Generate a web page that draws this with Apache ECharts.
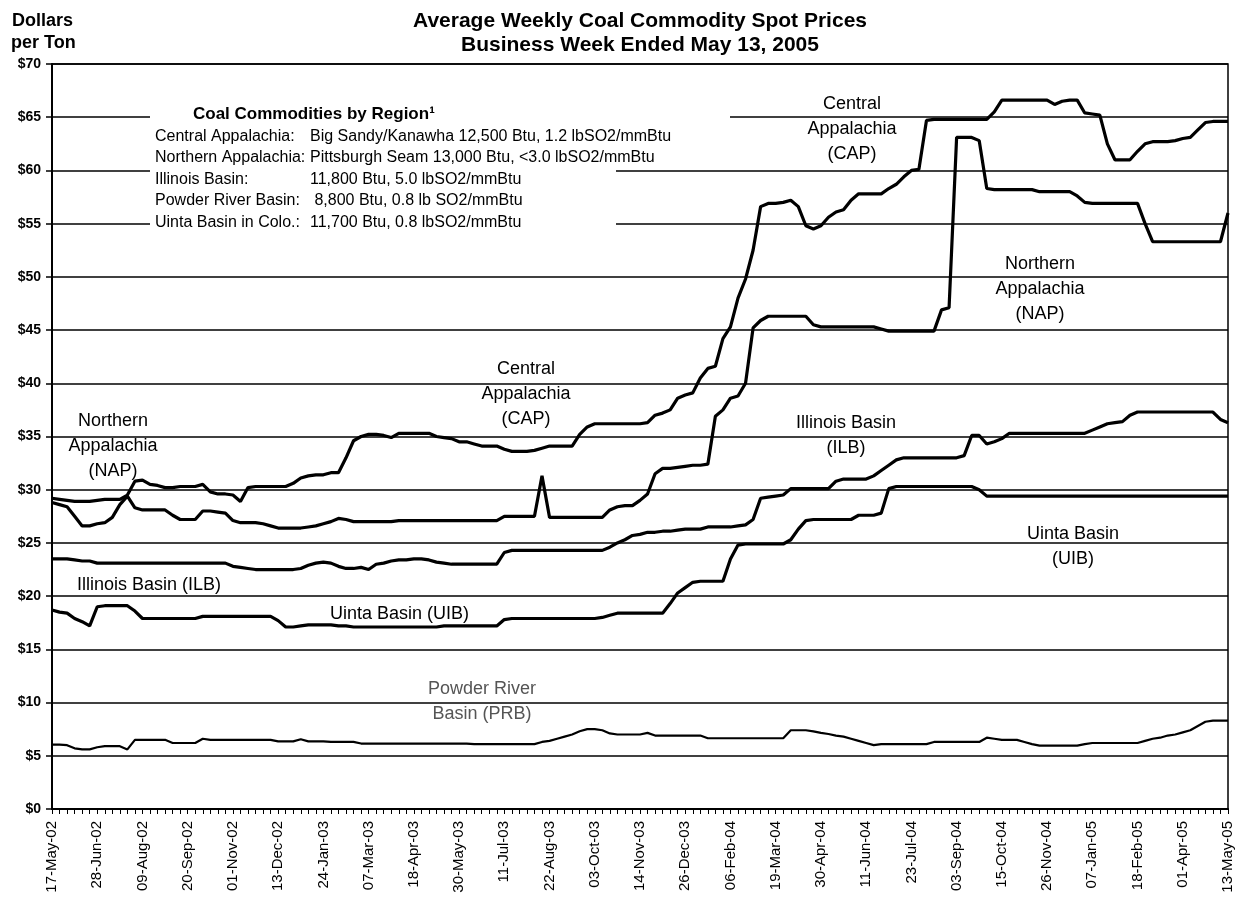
<!DOCTYPE html>
<html>
<head>
<meta charset="utf-8">
<script src="https://cdn.jsdelivr.net/npm/echarts@6/dist/echarts.min.js"></script>
<style>
  html, body { margin: 0; padding: 0; background: #fff; }
  #chart { width: 1236px; height: 899px; }
</style>
</head>
<body>
<div id="chart"></div>
<script>
// Tick labels (every 6th week, 17-May-02 .. 13-May-05)
const tickLabels = ['17-May-02','28-Jun-02','09-Aug-02','20-Sep-02','01-Nov-02','13-Dec-02','24-Jan-03','07-Mar-03','18-Apr-03','30-May-03','11-Jul-03','22-Aug-03','03-Oct-03','14-Nov-03','26-Dec-03','06-Feb-04','19-Mar-04','30-Apr-04','11-Jun-04','23-Jul-04','03-Sep-04','15-Oct-04','26-Nov-04','07-Jan-05','18-Feb-05','01-Apr-05','13-May-05'];

// Weekly values (157 weeks)
const cap = [
29.2,29.1,29.0,28.9,28.9,28.9,29.0,29.1,29.1,29.1,
29.5,30.8,30.9,30.5,30.4,30.2,30.2,30.3,30.3,30.3,
30.5,29.8,29.6,29.6,29.5,28.9,30.2,30.3,30.3,30.3,
30.3,30.3,30.6,31.1,31.3,31.4,31.4,31.6,31.6,33.0,
34.6,35.0,35.2,35.2,35.1,34.9,35.3,35.3,35.3,35.3,
35.3,35.0,34.9,34.8,34.5,34.5,34.3,34.1,34.1,34.1,
33.8,33.6,33.6,33.6,33.7,33.9,34.1,34.1,34.1,34.1,
35.2,35.9,36.2,36.2,36.2,36.2,36.2,36.2,36.2,36.3,
37.0,37.2,37.5,38.6,38.9,39.1,40.5,41.4,41.6,44.2,
45.3,48.0,49.8,52.5,56.6,56.9,56.9,57.0,57.2,56.6,
54.8,54.5,54.8,55.6,56.1,56.3,57.2,57.8,57.8,57.8,
57.8,58.3,58.7,59.4,60.0,60.1,64.7,64.8,64.8,64.8,
64.8,64.8,64.8,64.8,64.8,65.5,66.6,66.6,66.6,66.6,
66.6,66.6,66.6,66.2,66.5,66.6,66.6,65.4,65.3,65.2,
62.5,61.0,61.0,61.0,61.8,62.5,62.7,62.7,62.7,62.8,
63.0,63.1,63.8,64.5,64.6,64.6,64.6];
const nap = [
28.8,28.6,28.4,27.5,26.6,26.6,26.8,26.9,27.4,28.6,
29.4,28.3,28.1,28.1,28.1,28.1,27.6,27.2,27.2,27.2,
28.0,28.0,27.9,27.8,27.1,26.9,26.9,26.9,26.8,26.6,
26.4,26.4,26.4,26.4,26.5,26.6,26.8,27.0,27.3,27.2,
27.0,27.0,27.0,27.0,27.0,27.0,27.1,27.1,27.1,27.1,
27.1,27.1,27.1,27.1,27.1,27.1,27.1,27.1,27.1,27.1,
27.5,27.5,27.5,27.5,27.5,31.3,27.4,27.4,27.4,27.4,
27.4,27.4,27.4,27.4,28.1,28.4,28.5,28.5,29.0,29.6,
31.5,32.0,32.0,32.1,32.2,32.3,32.3,32.4,36.9,37.5,
38.6,38.8,40.0,45.2,45.9,46.3,46.3,46.3,46.3,46.3,
46.3,45.5,45.3,45.3,45.3,45.3,45.3,45.3,45.3,45.3,
45.1,44.9,44.9,44.9,44.9,44.9,44.9,44.9,46.9,47.1,
63.1,63.1,63.1,62.8,58.3,58.2,58.2,58.2,58.2,58.2,
58.2,58.0,58.0,58.0,58.0,58.0,57.6,57.0,56.9,56.9,
56.9,56.9,56.9,56.9,56.9,55.0,53.3,53.3,53.3,53.3,
53.3,53.3,53.3,53.3,53.3,53.3,56.0];
const ilb = [
23.5,23.5,23.5,23.4,23.3,23.3,23.1,23.1,23.1,23.1,
23.1,23.1,23.1,23.1,23.1,23.1,23.1,23.1,23.1,23.1,
23.1,23.1,23.1,23.1,22.8,22.7,22.6,22.5,22.5,22.5,
22.5,22.5,22.5,22.6,22.9,23.1,23.2,23.1,22.8,22.6,
22.6,22.7,22.5,23.0,23.1,23.3,23.4,23.4,23.5,23.5,
23.4,23.2,23.1,23.0,23.0,23.0,23.0,23.0,23.0,23.0,
24.1,24.3,24.3,24.3,24.3,24.3,24.3,24.3,24.3,24.3,
24.3,24.3,24.3,24.3,24.6,25.0,25.3,25.7,25.8,26.0,
26.0,26.1,26.1,26.2,26.3,26.3,26.3,26.5,26.5,26.5,
26.5,26.6,26.7,27.2,29.2,29.3,29.4,29.5,30.1,30.1,
30.1,30.1,30.1,30.1,30.8,31.0,31.0,31.0,31.0,31.3,
31.8,32.3,32.8,33.0,33.0,33.0,33.0,33.0,33.0,33.0,
33.0,33.2,35.1,35.1,34.3,34.5,34.8,35.3,35.3,35.3,
35.3,35.3,35.3,35.3,35.3,35.3,35.3,35.3,35.6,35.9,
36.2,36.3,36.4,37.0,37.3,37.3,37.3,37.3,37.3,37.3,
37.3,37.3,37.3,37.3,37.3,36.6,36.3];
const uib = [
18.7,18.5,18.4,17.9,17.6,17.2,19.0,19.1,19.1,19.1,
19.1,18.6,17.9,17.9,17.9,17.9,17.9,17.9,17.9,17.9,
18.1,18.1,18.1,18.1,18.1,18.1,18.1,18.1,18.1,18.1,
17.7,17.1,17.1,17.2,17.3,17.3,17.3,17.3,17.2,17.2,
17.1,17.1,17.1,17.1,17.1,17.1,17.1,17.1,17.1,17.1,
17.1,17.1,17.2,17.2,17.2,17.2,17.2,17.2,17.2,17.2,
17.8,17.9,17.9,17.9,17.9,17.9,17.9,17.9,17.9,17.9,
17.9,17.9,17.9,18.0,18.2,18.4,18.4,18.4,18.4,18.4,
18.4,18.4,19.3,20.3,20.8,21.3,21.4,21.4,21.4,21.4,
23.5,24.8,24.9,24.9,24.9,24.9,24.9,24.9,25.3,26.3,
27.1,27.2,27.2,27.2,27.2,27.2,27.2,27.6,27.6,27.6,
27.8,30.1,30.3,30.3,30.3,30.3,30.3,30.3,30.3,30.3,
30.3,30.3,30.3,30.0,29.4,29.4,29.4,29.4,29.4,29.4,
29.4,29.4,29.4,29.4,29.4,29.4,29.4,29.4,29.4,29.4,
29.4,29.4,29.4,29.4,29.4,29.4,29.4,29.4,29.4,29.4,
29.4,29.4,29.4,29.4,29.4,29.4,29.4];
const prb = [
6.05,6.05,6.0,5.7,5.6,5.6,5.8,5.9,5.9,5.9,
5.6,6.5,6.5,6.5,6.5,6.5,6.2,6.2,6.2,6.2,
6.6,6.5,6.5,6.5,6.5,6.5,6.5,6.5,6.5,6.5,
6.35,6.35,6.35,6.55,6.35,6.35,6.35,6.3,6.3,6.3,
6.3,6.15,6.15,6.15,6.15,6.15,6.15,6.15,6.15,6.15,
6.15,6.15,6.15,6.15,6.15,6.15,6.1,6.1,6.1,6.1,
6.1,6.1,6.1,6.1,6.1,6.3,6.4,6.6,6.8,7.0,
7.3,7.5,7.5,7.4,7.1,7.0,7.0,7.0,7.0,7.15,
6.9,6.9,6.9,6.9,6.9,6.9,6.9,6.65,6.65,6.65,
6.65,6.65,6.65,6.65,6.65,6.65,6.65,6.65,7.4,7.4,
7.4,7.3,7.15,7.05,6.9,6.8,6.6,6.4,6.2,6.0,
6.1,6.1,6.1,6.1,6.1,6.1,6.1,6.3,6.3,6.3,
6.3,6.3,6.3,6.3,6.7,6.6,6.5,6.5,6.5,6.3,
6.1,5.95,5.95,5.95,5.95,5.95,5.95,6.1,6.2,6.2,
6.2,6.2,6.2,6.2,6.2,6.4,6.6,6.7,6.9,7.0,
7.2,7.4,7.8,8.2,8.3,8.3,8.3];

const categories = cap.map((_, i) => 'W' + i);

const FONT = "'Liberation Sans', Arial, sans-serif";
const chart = echarts.init(document.getElementById('chart'), null, { renderer: 'canvas' });

function ser(name, data, w) {
  return { name, type: 'line', data, showSymbol: false, symbol: 'none', smooth: false,
    lineStyle: { color: '#000', width: w }, z: 5, animation: false };
}

function lbl(text, x, y, opts) {
  return { type: 'text', x, y, z: 110,
    style: Object.assign({ text, fill: '#000', font: "18px " + FONT, textAlign: 'center', textVerticalAlign: 'middle', lineHeight: 25 }, opts || {}) };
}

const rowFont = "16px " + FONT;
const option = {
  animation: false,
  backgroundColor: '#fff',
  grid: { left: 52, right: 8, top: 64, bottom: 90, show: true, borderColor: '#000', borderWidth: 1.5, backgroundColor: 'transparent' },
  xAxis: {
    type: 'category', data: categories, boundaryGap: false,
    axisLine: { lineStyle: { color: '#000', width: 2 } },
    axisTick: { show: true, interval: 0, length: 5, lineStyle: { color: '#000', width: 1 } },
    axisLabel: { interval: 0, rotate: 90, margin: 12, color: '#000', fontFamily: FONT, fontSize: 15,
      formatter: (v, idx) => (idx % 6 === 0 ? tickLabels[idx / 6] : '') },
    splitLine: { show: false }
  },
  yAxis: {
    type: 'value', min: 0, max: 70, interval: 5,
    axisLine: { show: true, lineStyle: { color: '#000', width: 2 } },
    axisTick: { show: true, length: 6, lineStyle: { color: '#000', width: 1.5 } },
    axisLabel: { color: '#000', fontFamily: FONT, fontSize: 14, fontWeight: 'bold', margin: 11,
      formatter: v => '$' + v },
    splitLine: { show: true, lineStyle: { color: '#000', width: 1.6 } }
  },
  series: [ ser('Central Appalachia', cap, 3.2), ser('Northern Appalachia', nap, 3.2),
            ser('Illinois Basin', ilb, 3.2), ser('Uinta Basin', uib, 3.2), ser('Powder River Basin', prb, 2.2) ],
  graphic: [
    // title & axis unit
    lbl('Average Weekly Coal Commodity Spot Prices', 640, 21, { font: "bold 21px " + FONT }),
    lbl('Business Week Ended May 13, 2005', 640, 45, { font: "bold 21px " + FONT }),
    lbl('Dollars', 12, 21, { font: "bold 18px " + FONT, textAlign: 'left' }),
    lbl('per Ton', 11, 43, { font: "bold 18px " + FONT, textAlign: 'left' }),
    // legend box (white, hides gridlines)
    { type: 'rect', z: 100, shape: { x: 150, y: 96, width: 466, height: 140 }, style: { fill: '#fff' } },
    { type: 'rect', z: 100, shape: { x: 615, y: 96, width: 115, height: 62 }, style: { fill: '#fff' } },
    lbl('Coal Commodities by Region\u00B9', 193, 114, { font: "bold 17px " + FONT, textAlign: 'left' }),
    lbl('Central Appalachia:', 155, 137, { font: rowFont, textAlign: 'left' }),
    lbl('Northern Appalachia:', 155, 158, { font: rowFont, textAlign: 'left' }),
    lbl('Illinois Basin:', 155, 180, { font: rowFont, textAlign: 'left' }),
    lbl('Powder River Basin:', 155, 201, { font: rowFont, textAlign: 'left' }),
    lbl('Uinta Basin in Colo.:', 155, 223, { font: rowFont, textAlign: 'left' }),
    lbl('Big Sandy/Kanawha 12,500 Btu, 1.2 lbSO2/mmBtu', 310, 137, { font: rowFont, textAlign: 'left' }),
    lbl('Pittsburgh Seam 13,000 Btu, <3.0 lbSO2/mmBtu', 310, 158, { font: rowFont, textAlign: 'left' }),
    lbl('11,800 Btu, 5.0 lbSO2/mmBtu', 310, 180, { font: rowFont, textAlign: 'left' }),
    lbl(' 8,800 Btu, 0.8 lb SO2/mmBtu', 310, 201, { font: rowFont, textAlign: 'left' }),
    lbl('11,700 Btu, 0.8 lbSO2/mmBtu', 310, 223, { font: rowFont, textAlign: 'left' }),
    // series annotations
    lbl('Central\nAppalachia\n(CAP)', 852, 129),
    lbl('Northern\nAppalachia\n(NAP)', 1040, 289),
    lbl('Central\nAppalachia\n(CAP)', 526, 394),
    lbl('Illinois Basin\n(ILB)', 846, 436),
    lbl('Northern\nAppalachia\n(NAP)', 113, 446),
    lbl('Illinois Basin (ILB)', 77, 585, { textAlign: 'left' }),
    lbl('Uinta Basin (UIB)', 330, 614, { textAlign: 'left' }),
    lbl('Uinta Basin\n(UIB)', 1073, 547),
    lbl('Powder River\nBasin (PRB)', 482, 702, { fill: '#555' })
  ]
};
chart.setOption(option);
</script>
</body>
</html>
